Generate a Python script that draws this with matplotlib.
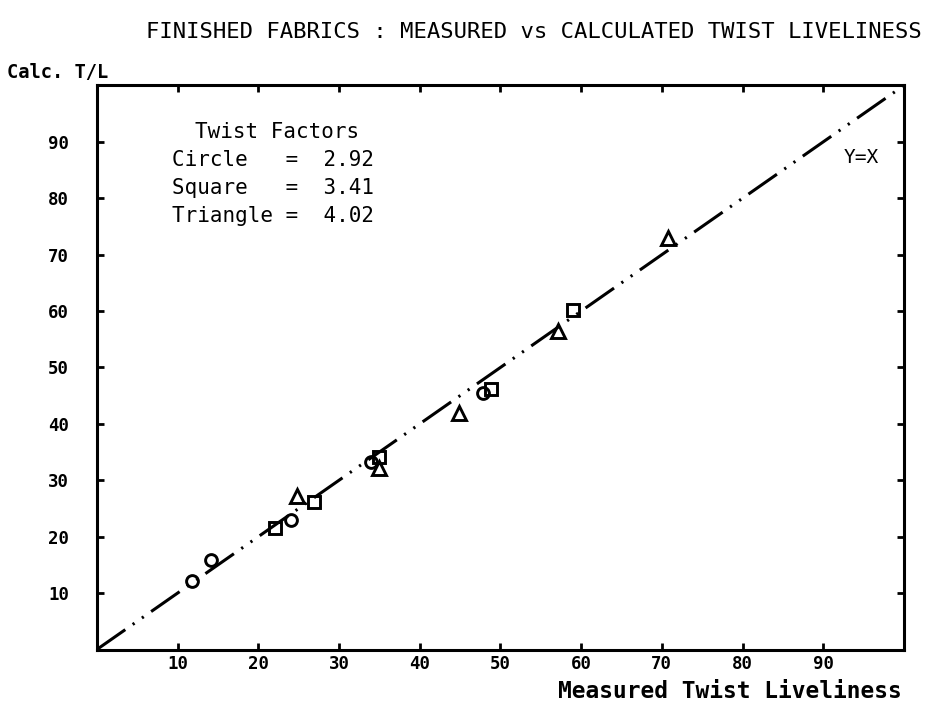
import matplotlib
matplotlib.use("Agg")
import matplotlib.pyplot as plt

# Measured vs calculated twist liveliness for three twist factors
circle_measured = [11.8, 14.2, 24.1, 34.0, 47.8]
circle_calc = [12.2, 15.8, 22.9, 33.3, 45.4]

square_measured = [22.1, 26.9, 35.0, 48.8, 59.0]
square_calc = [21.5, 26.2, 34.2, 46.1, 60.1]

triangle_measured = [24.8, 35.0, 44.9, 57.1, 70.8]
triangle_calc = [27.2, 32.1, 41.9, 56.4, 72.9]

ticks = [10, 20, 30, 40, 50, 60, 70, 80, 90]
tick_labels = ["10", "20", "30", "40", "50", "60", "70", "80", "90"]
factor_rows = ["Circle   =  2.92", "Square   =  3.41", "Triangle =  4.02"]

plt.rcParams["lines.scale_dashes"] = False
mono = "DejaVu Sans Mono"

fig = plt.figure(figsize=(9.31, 7.06), dpi=100)
ax = fig.add_axes([0.104, 0.080, 0.867, 0.799])
ax.set_xlim(0, 100)
ax.set_ylim(0, 100)

# reference line Y = X
ax.plot([0, 100], [0, 100], color="black", lw=2.2,
        dashes=(25, 6.5, 1.6, 6.5, 1.6, 6.5), zorder=1)

mk = dict(linestyle="none", markerfacecolor="none", markeredgecolor="black",
          markeredgewidth=2.1, zorder=3)
ax.plot(circle_measured, circle_calc, marker="o", markersize=8.5, **mk)
ax.plot(square_measured, square_calc, marker="s", markersize=8, **mk)
ax.plot(triangle_measured, triangle_calc, marker="^", markersize=10, **mk)

for side in ax.spines.values():
    side.set_linewidth(2.2)

ax.set_xticks(ticks)
ax.set_yticks(ticks)
ax.set_xticklabels(tick_labels, fontfamily=mono, fontweight="bold", fontsize=12.5)
ax.set_yticklabels(tick_labels, fontfamily=mono, fontweight="bold", fontsize=12.5)
ax.tick_params(direction="in", length=5, width=2, top=True, right=True,
               pad=4)
ax.tick_params(axis="y", pad=20)

ax.text(22.3, 91.8, "Twist Factors", ha="center", va="center",
        fontfamily=mono, fontsize=15)
for i, row in enumerate(factor_rows):
    ax.text(9.3, 86.8 - 5.0 * i, row, ha="left", va="center",
            fontfamily=mono, fontsize=15)
ax.text(94.7, 87.3, "Y=X", ha="center", va="center", fontfamily=mono,
        fontsize=14)

fig.text(0.573, 0.955, "FINISHED FABRICS : MEASURED vs CALCULATED TWIST LIVELINESS",
         ha="center", va="center", fontfamily=mono, fontsize=16)
fig.text(0.008, 0.898, "Calc. T/L", ha="left", va="center",
         fontfamily=mono, fontweight="bold", fontsize=13.5)
fig.text(0.784, 0.020, "Measured Twist Liveliness", ha="center", va="center",
         fontfamily=mono, fontweight="bold", fontsize=16.5)

fig.savefig("out.png", dpi=100, facecolor="white")
